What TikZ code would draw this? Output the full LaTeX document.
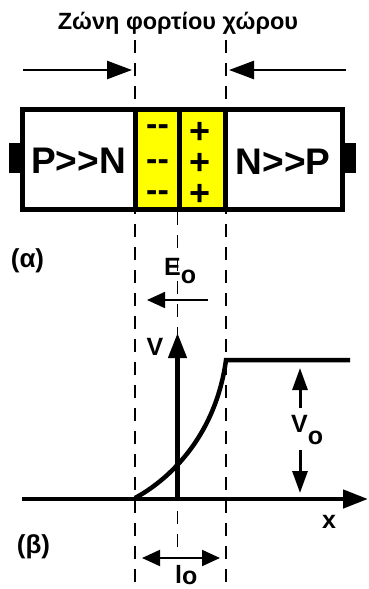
\documentclass[tikz,border=0pt]{standalone}
\usepackage{fontspec}
\setmainfont{Liberation Sans}
\usetikzlibrary{arrows.meta}
\usepackage{xcolor}
\definecolor{zone}{HTML}{FFFF00}

\begin{document}
\begin{tikzpicture}[x=1pt, y=-1pt,
  zoneline/.style={dash pattern=on 13pt off 10pt, line width=1.6pt},
  wall/.style={line width=5pt},
  drift/.style={-{Triangle[length=25pt, width=18pt]}, line width=2.5pt},
  axisline/.style={-{Triangle[length=25pt, width=18pt]}, line width=4.5pt},
  vtip/.style={-{Triangle[length=22pt, width=15pt]}, line width=3pt},
  wtip/.style={{Triangle[length=18pt, width=16pt]}-{Triangle[length=18pt, width=16pt]}, line width=2pt},
  field/.style={-{Triangle[length=18pt, width=16pt]}, line width=1.6pt},
  charge/.style={anchor=base, inner sep=0pt, font=\bfseries\fontsize{34}{34}\selectfont},
  lbl/.style={anchor=base, inner sep=1pt, font=\bfseries\fontsize{25}{25}\selectfont}
]
  \useasboundingbox (0,0) rectangle (369,589);
  % Title
  \node[anchor=base, font=\bfseries\fontsize{23.5}{24}\selectfont] (title) at (178,29) {Ζώνη φορτίου χώρου};
  % Zone borders
  \draw[zoneline] (135,40) -- (135,589);
  \draw[zoneline] (226,40) -- (226,589);
  \draw[zoneline] (177.5,212) -- (177.5,550);
  % Carrier arrows
  \coordinate (la) at (23,70);
  \coordinate (lb) at (132,70);
  \coordinate (ra) at (346,70);
  \coordinate (rb) at (229,70);
  \draw[drift] (la) -- (lb);
  \draw[drift] (ra) -- (rb);
  % Junction
  \fill[zone] (135,109.5) rectangle (226,209.5);
  \fill (9,143) rectangle (22,173);
  \fill (343,143) rectangle (356,173);
  \draw[wall] (22.5,109.5) rectangle (342.5,209.5);
  \draw[wall] (135.5,109.5) -- (135.5,209.5);
  \draw[wall] (179.5,109.5) -- (179.5,209.5);
  \draw[wall] (225.5,109.5) -- (225.5,209.5);
  \node[anchor=base, font=\bfseries\fontsize{37}{37}\selectfont] (pn) at (78.5,173) {P>{}>N};
  \node[anchor=base, font=\bfseries\fontsize{37}{37}\selectfont] (np) at (283,174) {N>{}>P};
  \foreach \y/\i in {135.5/1,170.5/2,201.5/3}
    \node[charge] (m\i) at (157.5,\y) {-{}-};
  \foreach \y/\i in {143/1,174/2,205/3}
    \node[charge, font=\bfseries\fontsize{36}{36}\selectfont] (p\i) at (200,\y) {+};
  \node[lbl, font=\bfseries\fontsize{26}{26}\selectfont] (alpha) at (27.5,267) {(α)};
  % Field
  \node[lbl, anchor=base west] (E0) at (163,275) {E\raisebox{-8pt}{o}};
  \coordinate (ea) at (208,300);
  \coordinate (eb) at (147,300);
  \draw[field] (ea) -- (eb);
  % Axes
  \coordinate (o) at (177.5,499);
  \coordinate (xend) at (368,499);
  \coordinate (vend) at (177.5,333);
  \draw[axisline] (22,499) -- (xend);
  \draw[axisline] (o) -- (vend);
  \node[lbl] (V) at (155,355) {V};
  \node[lbl] (x) at (329,528) {x};
  % Potential
  \draw[line width=4.5pt] (135,498) .. controls (165,482) and (215,440) .. (226,360) -- (350,360);
  % Barrier height
  \draw[vtip] (300,408) -- (300,368);
  \draw[vtip] (300,450) -- (300,493);
  \node[lbl, anchor=base west] (V0) at (290,432) {V\raisebox{-12pt}{o}};
  % Width
  \draw[wtip] (142,558) -- (220,558);
  \node[lbl, font=\bfseries\fontsize{26}{26}\selectfont] (beta) at (33.5,553) {(β)};
  \node[lbl, anchor=base west] (l0) at (174,583) {l\raisebox{-1pt}{o}};
\end{tikzpicture}
\end{document}
